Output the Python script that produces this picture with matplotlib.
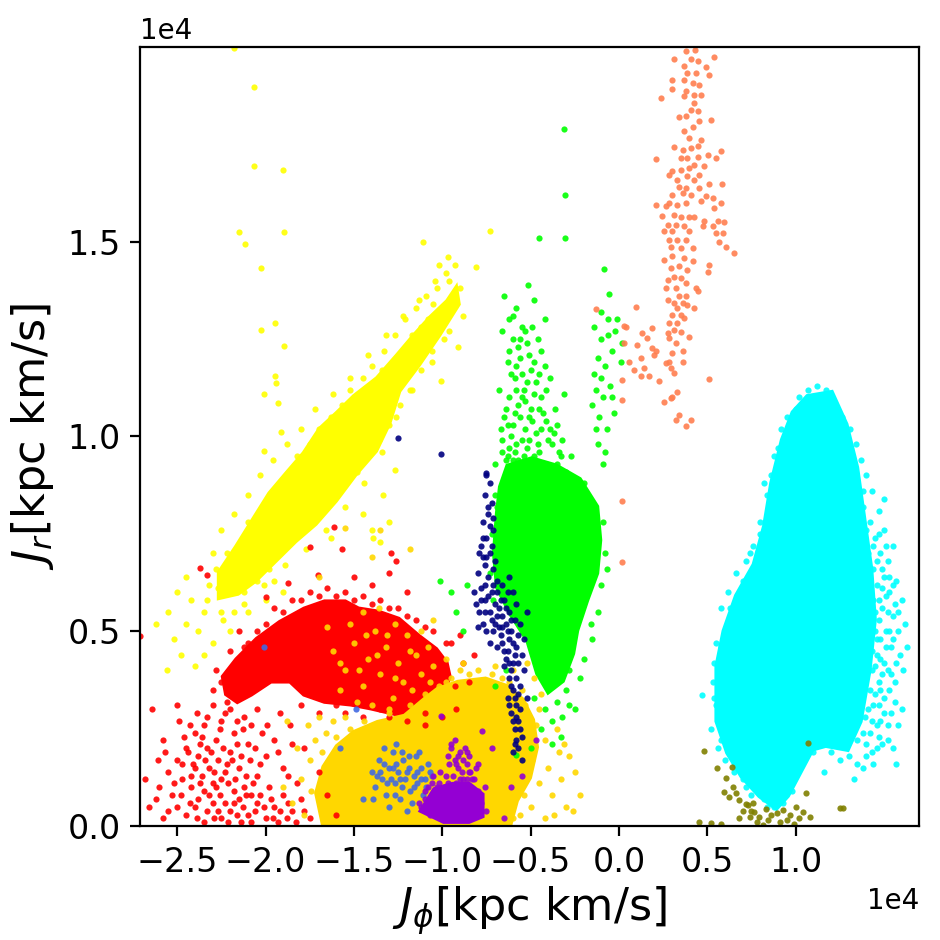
import numpy as np
import matplotlib.pyplot as plt

# all values in units of 1e4 kpc km/s  (J_phi, J_r)

# --- dense cores (outlines of the packed regions) ---
yellow_core = [(-2.256, 0.650), (-2.159, 0.716), (-2.063, 0.786), (-1.972, 0.852), (-1.875, 0.904),
               (-1.778, 0.955), (-1.688, 1.017), (-1.591, 1.058), (-1.494, 1.101), (-1.364, 1.147),
               (-1.25, 1.206), (-1.153, 1.258), (-1.063, 1.303), (-0.966, 1.345), (-0.926, 1.372),
               (-0.915, 1.340), (-1.023, 1.262), (-1.136, 1.187), (-1.25, 1.118), (-1.307, 1.035),
               (-1.381, 0.965), (-1.494, 0.906), (-1.608, 0.837), (-1.722, 0.778), (-1.835, 0.734),
               (-1.949, 0.683), (-2.063, 0.632), (-2.159, 0.600), (-2.256, 0.590)]
red_core = [(-2.159, 0.426), (-2.045, 0.478), (-1.915, 0.521), (-1.778, 0.555), (-1.665, 0.573),
            (-1.551, 0.573), (-1.477, 0.555), (-1.364, 0.547), (-1.25, 0.529), (-1.136, 0.485),
            (-1.040, 0.452), (-0.983, 0.418), (-0.966, 0.383), (-1.023, 0.323), (-1.119, 0.298),
            (-1.25, 0.290), (-1.403, 0.306), (-1.517, 0.316), (-1.665, 0.323), (-1.778, 0.341),
            (-1.858, 0.375), (-1.972, 0.375), (-2.085, 0.341), (-2.159, 0.323), (-2.216, 0.341),
            (-2.233, 0.383)]
gold_core = [(-1.665, 0.0), (-1.705, 0.085), (-1.665, 0.151), (-1.591, 0.203), (-1.494, 0.239),
             (-1.364, 0.264), (-1.210, 0.280), (-1.097, 0.323), (-1.023, 0.349), (-0.909, 0.367),
             (-0.756, 0.375), (-0.642, 0.357), (-0.551, 0.323), (-0.494, 0.272), (-0.472, 0.203),
             (-0.511, 0.126), (-0.585, 0.067), (-0.625, 0.0)]
purple_core = [(-1.04, 0.092), (-0.94, 0.105), (-0.85, 0.105), (-0.78, 0.080), (-0.78, 0.028),
               (-0.85, 0.015), (-0.99, 0.015), (-1.11, 0.041)]
lime_core = [(-0.625, 0.922), (-0.494, 0.940), (-0.358, 0.922), (-0.227, 0.888), (-0.131, 0.819),
             (-0.114, 0.734), (-0.131, 0.650), (-0.188, 0.580), (-0.244, 0.503), (-0.267, 0.444),
             (-0.324, 0.375), (-0.398, 0.349), (-0.455, 0.393), (-0.511, 0.478), (-0.608, 0.547),
             (-0.682, 0.614), (-0.699, 0.701), (-0.682, 0.804), (-0.665, 0.870)]
cyan_core = [(1.07, 1.10), (1.20, 1.11), (1.28, 1.03), (1.34, 0.92), (1.38, 0.79), (1.42, 0.66),
             (1.44, 0.53), (1.41, 0.40), (1.36, 0.27), (1.29, 0.20), (1.17, 0.21), (1.09, 0.20),
             (1.02, 0.14), (0.95, 0.08), (0.89, 0.05), (0.80, 0.08), (0.70, 0.13), (0.62, 0.19),
             (0.56, 0.27), (0.56, 0.41), (0.60, 0.50), (0.67, 0.59), (0.77, 0.67), (0.83, 0.77),
             (0.87, 0.88), (0.93, 0.99), (0.99, 1.06)]

# --- scattered points ---
yellow_pts = [(-2.35, 0.55), (-2.38, 0.50), (-2.30, 0.47), (-2.42, 0.58), (-2.55, 0.55), (-2.52, 0.48),
              (-2.48, 0.44), (-2.45, 0.52), (-2.40, 0.41), (-2.56, 0.40), (-2.35, 0.44), (-2.50, 0.60),
              (-2.32, 0.62), (-2.28, 0.66), (-2.25, 0.55), (-2.22, 0.70), (-2.18, 0.55), (-2.15, 0.72),
              (-2.12, 0.60), (-2.10, 0.78), (-2.05, 0.63), (-2.02, 0.80), (-1.98, 0.66), (-1.95, 0.86),
              (-1.92, 0.70), (-1.88, 0.90), (-1.85, 0.74), (-1.82, 0.95), (-1.78, 0.76), (-1.75, 0.98),
              (-1.72, 0.80), (-1.70, 1.02), (-1.66, 0.82), (-1.63, 1.05), (-1.60, 0.86), (-1.57, 1.08),
              (-1.55, 0.88), (-1.52, 1.12), (-1.48, 0.91), (-1.45, 1.15), (-1.42, 0.96), (-1.40, 1.18),
              (-1.36, 0.99), (-1.33, 1.22), (-1.30, 1.03), (-1.27, 1.26), (-1.24, 1.08), (-1.21, 1.30),
              (-1.18, 1.12), (-1.15, 1.33), (-1.12, 1.17), (-1.09, 1.36), (-1.06, 1.22), (-1.03, 1.38),
              (-1.00, 1.30), (-0.98, 1.42), (-0.95, 1.35), (-0.93, 1.44), (-0.97, 1.46), (-1.02, 1.44),
              (-0.99, 1.25), (-1.08, 1.30), (-2.20, 0.64), (-2.08, 0.73), (-1.98, 0.79), (-1.90, 0.76),
              (-1.80, 0.88), (-1.72, 0.92), (-1.65, 0.98), (-1.55, 1.02), (-1.46, 1.10), (-1.38, 1.12),
              (-1.30, 1.16), (-1.22, 1.22), (-1.12, 1.28), (-1.25, 1.14), (-1.42, 1.02), (-1.60, 0.92),
              (-1.82, 0.81), (-2.00, 0.69), (-1.70, 0.86), (-1.50, 0.97), (-2.176, 1.997), (-2.063, 1.897),
              (-2.063, 1.694), (-1.903, 1.684), (-2.148, 1.525), (-1.898, 1.525), (-2.114, 1.494),
              (-2.028, 1.433), (-1.949, 1.291), (-2.023, 1.273), (-1.898, 1.232), (-1.949, 1.155),
              (-1.943, 1.137), (-2.006, 1.109), (-1.932, 1.086), (-1.915, 1.012), (-2.006, 0.963),
              (-1.108, 1.499), (-0.727, 1.528), (-1.006, 1.143), (-0.909, 1.230), (-0.807, 1.435),
              (-1.45, 0.80), (-1.40, 0.76), (-1.35, 0.73), (-1.30, 0.78), (-1.63, 0.74), (-1.39, 0.74),
              (-1.335, 0.85), (-1.27, 0.914), (-2.00, 0.58), (-1.95, 0.63), (-1.90, 0.60), (-2.20, 0.50),
              (-2.10, 0.55), (-2.62, 0.52), (-2.45, 0.64), (-2.27, 0.61), (-2.16, 0.66), (-1.87, 0.80),
              (-1.76, 0.85), (-1.62, 0.94), (-1.52, 1.05), (-1.34, 1.17), (-1.17, 1.26), (-1.05, 1.34),
              (-2.30, 0.70), (-2.25, 0.76), (-2.18, 0.80), (-2.10, 0.85), (-2.03, 0.90), (-1.96, 0.94),
              (-1.88, 0.98), (-1.80, 1.02), (-1.72, 1.07), (-1.62, 1.11), (-1.52, 1.15), (-1.42, 1.21),
              (-1.32, 1.26), (-1.22, 1.31), (-1.13, 1.35), (-1.04, 1.40), (-0.96, 1.40), (-0.90, 1.38),
              (-0.88, 1.31), (-0.96, 1.27), (-1.06, 1.19), (-1.17, 1.12), (-1.26, 1.05), (-1.34, 0.96),
              (-1.44, 0.88), (-1.55, 0.82), (-1.66, 0.76), (-1.77, 0.71), (-1.89, 0.67), (-2.01, 0.62),
              (-2.12, 0.57), (-2.24, 0.53), (-2.33, 0.58)]
red_pts = [(-2.20, 0.30), (-2.25, 0.27), (-2.12, 0.28), (-2.30, 0.31), (-2.05, 0.30), (-2.35, 0.26),
           (-2.18, 0.24), (-2.28, 0.22), (-2.40, 0.24), (-2.45, 0.20), (-2.50, 0.17), (-2.38, 0.18),
           (-2.32, 0.15), (-2.42, 0.13), (-2.55, 0.14), (-2.60, 0.10), (-2.20, 0.19), (-2.15, 0.15),
           (-2.25, 0.12), (-2.10, 0.21), (-2.00, 0.18), (-1.95, 0.22), (-2.05, 0.13), (-1.90, 0.15),
           (-2.35, 0.09), (-2.48, 0.08), (-2.52, 0.11), (-2.62, 0.07), (-2.45, 0.03), (-2.40, 0.05),
           (-2.30, 0.06), (-2.25, 0.02), (-2.20, 0.04), (-2.15, 0.07), (-2.10, 0.03), (-2.05, 0.06),
           (-2.00, 0.02), (-1.95, 0.05), (-1.90, 0.08), (-1.85, 0.04), (-1.80, 0.07), (-1.75, 0.02),
           (-2.55, 0.04), (-2.35, 0.01), (-2.28, 0.10), (-2.12, 0.10), (-1.98, 0.10), (-1.82, 0.11),
           (-2.42, 0.10), (-2.68, 0.12), (-2.58, 0.22), (-2.64, 0.30), (-2.50, 0.31), (-1.78, 0.20),
           (-1.70, 0.14), (-1.65, 0.08), (-1.60, 0.03), (-2.33, 0.20), (-2.22, 0.16), (-2.40, 0.15),
           (-2.30, 0.11), (-2.18, 0.09), (-2.08, 0.08), (-2.38, 0.07), (-2.27, 0.04), (-2.14, 0.01),
           (-1.93, 0.01), (-2.02, 0.24), (-2.13, 0.25), (-2.47, 0.16), (-2.57, 0.19),
           (-2.44, 0.19), (-2.41, 0.16), (-2.37, 0.21), (-2.36, 0.13), (-2.34, 0.17), (-2.31, 0.19),
           (-2.29, 0.14), (-2.27, 0.17), (-2.24, 0.20), (-2.23, 0.14), (-2.21, 0.11), (-2.19, 0.17),
           (-2.17, 0.12), (-2.16, 0.21), (-2.14, 0.18), (-2.11, 0.13), (-2.09, 0.17), (-2.07, 0.11),
           (-2.06, 0.20), (-2.03, 0.16), (-2.43, 0.06), (-2.39, 0.02), (-2.37, 0.11), (-2.33, 0.04),
           (-2.32, 0.08), (-2.29, 0.02), (-2.26, 0.08), (-2.23, 0.06), (-2.21, 0.01), (-2.18, 0.06),
           (-2.16, 0.03), (-2.13, 0.05), (-2.11, 0.08), (-2.08, 0.01), (-2.06, 0.04), (-2.03, 0.08),
           (-2.01, 0.05), (-1.97, 0.07), (-1.96, 0.02), (-1.92, 0.04), (-1.88, 0.02), (-1.87, 0.06),
           (-1.83, 0.01), (-1.78, 0.04), (-2.47, 0.12), (-2.50, 0.05), (-2.53, 0.08), (-2.58, 0.02),
           (-2.46, 0.23), (-2.43, 0.26), (-2.39, 0.29), (-2.36, 0.23), (-2.26, 0.25), (-2.23, 0.29),
           (-2.16, 0.27), (-2.08, 0.26), (-1.99, 0.26), (-1.93, 0.19), (-1.87, 0.13), (-1.85, 0.21),
           (-2.61, 0.17), (-2.66, 0.05), (-2.49, 0.27), (-2.33, 0.28), (-1.92, 0.29), (-1.86, 0.26),
           (-2.00, 0.52), (-1.95, 0.56), (-1.85, 0.58), (-1.75, 0.60), (-1.65, 0.61), (-1.55, 0.60),
           (-1.45, 0.59), (-1.35, 0.58), (-1.25, 0.56), (-1.15, 0.53), (-1.05, 0.50), (-0.98, 0.47),
           (-1.00, 0.28), (-1.10, 0.26), (-1.20, 0.27), (-1.30, 0.28), (-1.45, 0.28), (-1.55, 0.29),
           (-1.70, 0.29), (-1.80, 0.31), (-2.28, 0.40), (-2.30, 0.35), (-2.20, 0.45), (-2.15, 0.50),
           (-2.10, 0.47), (-0.93, 0.36), (-0.88, 0.42), (-0.85, 0.37), (-0.82, 0.44), (-0.92, 0.30),
           (-0.95, 0.47), (-0.90, 0.49), (-2.71, 0.488), (-1.61, 0.768), (-1.57, 0.71), (-1.75, 0.717),
           (-1.29, 0.70), (-1.26, 0.68), (-1.30, 0.65), (-2.37, 0.662), (-2.33, 0.645), (-2.00, 0.589),
           (-1.875, 0.624), (-1.705, 0.645), (-1.50, 0.64), (-1.40, 0.62), (-1.20, 0.60),
           (-1.90, 0.55), (-1.80, 0.58), (-1.70, 0.59), (-1.60, 0.59), (-1.50, 0.58), (-1.40, 0.57),
           (-1.30, 0.56), (-1.20, 0.54), (-1.10, 0.51), (-2.05, 0.50), (-2.12, 0.46), (-2.25, 0.37),
           (-2.22, 0.32), (-1.10, 0.29), (-1.35, 0.30), (-1.60, 0.31)]
gold_pts = [(-1.62, 0.45), (-1.55, 0.40), (-1.50, 0.47), (-1.45, 0.36), (-1.42, 0.43), (-1.38, 0.50),
            (-1.35, 0.39), (-1.32, 0.46), (-1.28, 0.33), (-1.25, 0.42), (-1.22, 0.37), (-1.20, 0.49),
            (-1.18, 0.31), (-1.15, 0.44), (-1.12, 0.39), (-1.10, 0.34), (-1.08, 0.46), (-1.05, 0.41),
            (-1.02, 0.36), (-1.00, 0.31), (-0.98, 0.43), (-1.30, 0.30), (-1.40, 0.31), (-1.48, 0.32),
            (-1.58, 0.35), (-1.52, 0.52), (-1.65, 0.51), (-1.27, 0.52), (-1.12, 0.50), (-0.95, 0.38),
            (-0.92, 0.33), (-0.90, 0.40), (-1.36, 0.56), (-1.45, 0.55), (-1.05, 0.53), (-1.85, 0.06),
            (-1.80, 0.12), (-1.78, 0.03), (-1.75, 0.17), (-1.72, 0.22), (-1.82, 0.20), (-1.90, 0.10),
            (-1.88, 0.27), (-1.70, 0.28), (-1.62, 0.27), (-1.55, 0.28), (-0.45, 0.30), (-0.42, 0.22),
            (-0.40, 0.15), (-0.38, 0.08), (-0.35, 0.25), (-0.33, 0.12), (-0.30, 0.05), (-0.28, 0.18),
            (-0.25, 0.14), (-0.22, 0.08), (-0.42, 0.02), (-0.48, 0.38), (-0.52, 0.42), (-0.60, 0.40),
            (-0.70, 0.41), (-0.80, 0.40), (-0.88, 0.42), (-1.55, 0.765), (-1.40, 0.69), (-1.35, 0.76),
            (-1.18, 0.71), (-1.70, 0.64), (-1.68, 0.19), (-1.74, 0.09), (-1.60, 0.23), (-1.44, 0.27),
            (-1.30, 0.29), (-1.16, 0.30), (-0.98, 0.37), (-0.85, 0.39), (-0.66, 0.38), (-0.55, 0.35),
            (-0.47, 0.26), (-0.45, 0.11), (-0.50, 0.05), (-0.56, 0.03), (-0.34, 0.19), (-0.44, 0.34),
            (-1.58, 0.42), (-1.47, 0.40), (-1.37, 0.44), (-1.27, 0.38), (-1.17, 0.35), (-1.07, 0.37),
            (-1.43, 0.49), (-1.31, 0.49), (-1.18, 0.45), (-1.76, 0.26), (-1.66, 0.24), (-1.52, 0.25),
            (-0.72, 0.39), (-0.62, 0.37), (-0.53, 0.31), (-0.49, 0.17), (-0.54, 0.08), (-0.60, 0.02),
            (-0.37, 0.03), (-0.26, 0.04), (-0.31, 0.21)]
blue_pts = [(-1.40, 0.14), (-1.38, 0.10), (-1.36, 0.17), (-1.34, 0.12), (-1.32, 0.08), (-1.30, 0.15),
            (-1.28, 0.19), (-1.27, 0.11), (-1.25, 0.14), (-1.24, 0.07), (-1.22, 0.17), (-1.21, 0.12),
            (-1.19, 0.15), (-1.18, 0.09), (-1.16, 0.13), (-1.15, 0.18), (-1.14, 0.11), (-1.12, 0.15),
            (-1.10, 0.12), (-1.08, 0.16), (-1.06, 0.13), (-1.30, 0.05), (-1.20, 0.04), (-1.26, 0.21),
            (-1.33, 0.20), (-1.23, 0.10), (-1.17, 0.06), (-1.11, 0.08), (-1.35, 0.14), (-1.29, 0.12),
            (-1.13, 0.19), (-1.45, 0.07), (-2.007, 0.46), (-1.49, 0.30), (-1.58, 0.20),
            (-1.26, 0.16), (-1.20, 0.14), (-1.14, 0.14), (-1.31, 0.11), (-1.09, 0.10), (-1.23, 0.19),
            (-1.37, 0.13), (-1.33, 0.16), (-1.28, 0.15), (-1.24, 0.12), (-1.19, 0.18), (-1.16, 0.10),
            (-1.12, 0.12), (-1.07, 0.14), (-1.39, 0.07), (-1.27, 0.08)]
purple_pts = [(-0.95, 0.20), (-0.93, 0.22), (-0.90, 0.19), (-0.96, 0.16), (-0.91, 0.15), (-0.88, 0.17),
              (-0.85, 0.14), (-0.98, 0.13), (-1.02, 0.11), (-1.05, 0.13), (-1.08, 0.10), (-1.10, 0.07),
              (-1.12, 0.05), (-1.00, 0.08), (-0.88, 0.10), (-0.83, 0.12), (-0.80, 0.09), (-0.78, 0.06),
              (-0.82, 0.03), (-0.90, 0.05), (-0.95, 0.04), (-1.04, 0.03), (-0.86, 0.19), (-0.92, 0.11),
              (-0.96, 0.09), (-0.97, 0.18), (-0.81, 0.15), (-1.07, 0.03), (-1.006, 0.282), (-0.773, 0.244),
              (-0.47, 0.22), (-0.72, 0.20), (-0.61, 0.10), (-0.65, 0.02), (-0.55, 0.13),
              (-0.94, 0.13), (-0.90, 0.12), (-0.86, 0.12), (-0.99, 0.10), (-1.06, 0.11), (-0.84, 0.07),
              (-0.93, 0.17), (-0.89, 0.14), (-1.01, 0.14), (-0.95, 0.21), (-0.87, 0.20), (-0.85, 0.18),
              (-0.92, 0.16), (-0.84, 0.14), (-0.82, 0.12), (-0.88, 0.12), (-1.10, 0.09), (-1.13, 0.06),
              (-0.80, 0.16), (-0.86, 0.16), (-0.91, 0.18), (-0.97, 0.11), (-1.03, 0.10), (-0.76, 0.10),
              (-0.75, 0.04)]
navy_pts = [(-0.75, 0.90), (-0.73, 0.88), (-0.76, 0.85), (-0.72, 0.83), (-0.74, 0.80), (-0.77, 0.78),
            (-0.71, 0.76), (-0.75, 0.74), (-0.78, 0.72), (-0.73, 0.70), (-0.70, 0.68), (-0.76, 0.67),
            (-0.80, 0.65), (-0.74, 0.64), (-0.71, 0.62), (-0.78, 0.61), (-0.82, 0.60), (-0.76, 0.58),
            (-0.70, 0.57), (-0.73, 0.55), (-0.79, 0.55), (-0.68, 0.56), (-0.65, 0.58), (-0.62, 0.55),
            (-0.60, 0.60), (-0.58, 0.57), (-0.64, 0.52), (-0.70, 0.52), (-0.75, 0.50), (-0.80, 0.51),
            (-0.67, 0.49), (-0.61, 0.50), (-0.56, 0.52), (-0.54, 0.48), (-0.58, 0.46), (-0.63, 0.45),
            (-0.69, 0.46), (-0.73, 0.47), (-0.60, 0.42), (-0.65, 0.41), (-0.55, 0.44), (-0.52, 0.55),
            (-0.66, 0.62), (-0.62, 0.64), (-0.62, 0.38), (-0.60, 0.35), (-0.63, 0.33), (-0.58, 0.31),
            (-0.61, 0.29), (-0.57, 0.27), (-0.59, 0.25), (-0.55, 0.23), (-0.57, 0.20), (-0.60, 0.19),
            (-0.56, 0.36), (-0.54, 0.40), (-0.52, 0.33), (-1.25, 0.996), (-1.006, 0.955), (-0.75, 0.907),
            (-0.77, 0.69), (-0.74, 0.59), (-0.66, 0.54), (-0.59, 0.53), (-0.71, 0.50), (-0.57, 0.49),
            (-0.79, 0.70), (-0.76, 0.62), (-0.72, 0.72), (-0.69, 0.60), (-0.67, 0.58), (-0.63, 0.60),
            (-0.64, 0.56), (-0.61, 0.53), (-0.68, 0.51), (-0.72, 0.53), (-0.77, 0.52), (-0.66, 0.47),
            (-0.62, 0.48), (-0.59, 0.44), (-0.57, 0.42), (-0.61, 0.40), (-0.64, 0.43), (-0.58, 0.38),
            (-0.61, 0.36), (-0.59, 0.33), (-0.56, 0.30), (-0.60, 0.27), (-0.58, 0.22), (-0.55, 0.17),
            (-0.74, 0.82), (-0.71, 0.79), (-0.77, 0.74), (-0.73, 0.77), (-0.78, 0.58), (-0.81, 0.57),
            (-0.69, 0.54), (-0.66, 0.51), (-0.63, 0.50), (-0.60, 0.47), (-0.65, 0.45), (-0.62, 0.42),
            (-0.57, 0.34), (-0.62, 0.31), (-0.58, 0.28), (-0.56, 0.25), (-0.59, 0.21), (-0.71, 0.66),
            (-0.75, 0.69), (-0.72, 0.60), (-0.69, 0.63), (-0.76, 0.55)]
lime_pts = [(-0.62, 1.30), (-0.58, 1.33), (-0.55, 1.28), (-0.60, 1.25), (-0.52, 1.24), (-0.56, 1.20),
            (-0.63, 1.19), (-0.50, 1.17), (-0.59, 1.15), (-0.54, 1.12), (-0.47, 1.14), (-0.62, 1.10),
            (-0.57, 1.08), (-0.50, 1.07), (-0.44, 1.10), (-0.65, 1.05), (-0.60, 1.03), (-0.53, 1.02),
            (-0.47, 1.01), (-0.41, 1.04), (-0.66, 0.99), (-0.58, 0.98), (-0.52, 0.97), (-0.45, 0.96),
            (-0.38, 0.98), (-0.63, 0.95), (-0.35, 0.93), (-0.70, 0.93), (-0.68, 1.12), (-0.39, 1.15),
            (-0.44, 1.22), (-0.42, 1.30), (-0.48, 1.35), (-0.66, 1.27), (-0.517, 1.389), (-0.057, 1.366),
            (-0.653, 1.361), (-0.3125, 1.789), (-0.307, 1.62), (-0.307, 1.51), (-0.455, 1.51),
            (-0.085, 1.43), (-0.14, 1.28), (-0.10, 1.25), (-0.06, 1.30), (-0.02, 1.27), (-0.12, 1.20),
            (-0.08, 1.18), (-0.04, 1.22), (0.01, 1.19), (-0.13, 1.12), (-0.09, 1.10), (-0.05, 1.13),
            (-0.11, 1.05), (-0.07, 1.02), (-0.12, 0.98), (-0.03, 1.06), (-0.15, 1.08), (-0.08, 0.96),
            (0.02, 1.24), (-0.10, 1.32), (-1.01, 0.63), (-0.95, 0.60), (-0.92, 0.55), (-0.88, 0.50),
            (-0.86, 0.62), (-0.42, 0.30), (-0.38, 0.27), (-0.35, 0.32), (-0.32, 0.28), (-0.30, 0.35),
            (-0.40, 0.36), (-0.36, 0.40), (-0.28, 0.31), (-0.44, 0.25), (-0.25, 0.30), (-0.33, 0.23),
            (-0.38, 0.21), (-0.72, 0.75), (-0.73, 0.65), (-0.70, 0.85), (-0.10, 0.62), (-0.08, 0.70),
            (-0.12, 0.55), (-0.15, 0.48), (-0.20, 0.43), (-0.22, 0.38), (-0.64, 0.40), (-0.70, 0.36),
            (-0.50, 0.20), (-0.585, 0.182), (-0.64, 0.94), (-0.30, 0.91), (-0.20, 0.88), (-0.27, 0.95),
            (-0.09, 0.78), (-0.07, 0.66), (-0.16, 0.52), (-0.28, 0.40), (-0.48, 0.33), (-0.71, 0.58),
            (-0.69, 0.82), (-0.64, 1.07), (-0.61, 1.00), (-0.56, 1.05), (-0.55, 0.99), (-0.49, 1.04),
            (-0.46, 0.98), (-0.43, 1.06), (-0.40, 0.99), (-0.37, 1.01), (-0.34, 0.96), (-0.59, 0.96),
            (-0.53, 1.09), (-0.58, 1.12), (-0.61, 1.16), (-0.52, 1.14), (-0.48, 1.19), (-0.57, 1.23),
            (-0.53, 1.27), (-0.60, 1.31), (-0.49, 1.28), (-0.46, 1.25), (-0.42, 1.18), (-0.36, 1.07),
            (-0.32, 0.99), (-0.31, 1.11), (-0.44, 1.02), (-0.51, 0.99), (-0.62, 0.97), (-0.67, 1.02),
            (-0.57, 0.94), (-0.63, 1.03), (-0.59, 1.06), (-0.55, 1.10), (-0.51, 1.05), (-0.48, 1.11),
            (-0.45, 1.07), (-0.41, 1.12), (-0.39, 1.02), (-0.35, 1.03), (-0.33, 0.95), (-0.48, 0.95),
            (-0.54, 0.95), (-0.60, 0.94), (-0.66, 0.96), (-0.58, 1.18), (-0.55, 1.16), (-0.51, 1.21),
            (-0.56, 1.25), (-0.62, 1.22), (-0.45, 1.16), (-0.04, 1.10), (-0.10, 1.15), (-0.06, 1.26),
            (-0.01, 1.30), (-0.13, 1.02), (-0.09, 0.93), (-0.14, 1.16)]
coral_pts = [(0.379, 1.988), (0.432, 1.992), (0.407, 1.967), (0.445, 1.962), (0.3125, 1.968), (0.369, 1.950),
             (0.492, 1.948), (0.388, 1.932), (0.436, 1.932), (0.536, 1.973), (0.511, 1.928), (0.303, 1.915),
             (0.369, 1.915), (0.417, 1.907), (0.455, 1.902), (0.303, 1.890), (0.379, 1.885), (0.237, 1.868),
             (0.369, 1.873), (0.426, 1.877), (0.464, 1.877), (0.426, 1.855), (0.407, 1.838), (0.445, 1.834),
             (0.341, 1.819), (0.379, 1.821), (0.521, 1.813), (0.455, 1.808), (0.417, 1.795), (0.369, 1.783),
             (0.398, 1.766), (0.464, 1.761), (0.445, 1.744), (0.3125, 1.742), (0.360, 1.736), (0.407, 1.740),
             (0.578, 1.731), (0.208, 1.712), (0.350, 1.714), (0.388, 1.714), (0.445, 1.718), (0.502, 1.723),
             (0.549, 1.714), (0.426, 1.697), (0.483, 1.693), (0.303, 1.680), (0.350, 1.684), (0.398, 1.689),
             (0.455, 1.671), (0.331, 1.659), (0.388, 1.667), (0.426, 1.659), (0.284, 1.671), (0.508, 1.648),
             (0.583, 1.648), (0.341, 1.641), (0.379, 1.637), (0.455, 1.637), (0.303, 1.620), (0.360, 1.624),
             (0.407, 1.620), (0.492, 1.616), (0.530, 1.611), (0.578, 1.600), (0.284, 1.599), (0.331, 1.594),
             (0.379, 1.599), (0.464, 1.603), (0.208, 1.594), (0.265, 1.590), (0.540, 1.586), (0.3125, 1.569),
             (0.350, 1.564), (0.398, 1.564), (0.246, 1.566), (0.426, 1.564), (0.483, 1.552), (0.559, 1.552),
             (0.597, 1.549), (0.275, 1.543), (0.322, 1.543), (0.369, 1.539), (0.473, 1.539), (0.530, 1.539),
             (0.303, 1.526), (0.398, 1.526), (0.549, 1.523), (0.256, 1.526), (0.587, 1.522), (0.284, 1.505),
             (0.331, 1.505), (0.379, 1.505), (0.568, 1.500), (0.350, 1.483), (0.417, 1.483), (0.294, 1.487),
             (0.606, 1.486), (0.653, 1.470), (0.256, 1.453), (0.303, 1.462), (0.369, 1.457), (0.417, 1.449),
             (0.294, 1.432), (0.341, 1.436), (0.388, 1.428), (0.508, 1.439), (0.502, 1.422), (0.3125, 1.410),
             (0.350, 1.406), (0.275, 1.402), (0.379, 1.393), (0.322, 1.380), (0.265, 1.380), (0.436, 1.380),
             (0.445, 1.372), (0.341, 1.359), (0.379, 1.359), (0.275, 1.350), (0.3125, 1.342), (0.360, 1.342),
             (0.388, 1.338), (0.331, 1.329), (0.426, 1.329), (0.303, 1.312), (0.350, 1.312), (0.284, 1.291),
             (0.331, 1.291), (0.369, 1.303), (0.3125, 1.273), (0.350, 1.269), (0.275, 1.265), (0.398, 1.256),
             (0.284, 1.252), (0.322, 1.239), (0.095, 1.332), (0.038, 1.282), (0.186, 1.278), (0.133, 1.265),
             (0.161, 1.252), (0.104, 1.235), (0.028, 1.239), (0.189, 1.226), (0.208, 1.218), (0.303, 1.214),
             (0.360, 1.218), (0.199, 1.209), (0.123, 1.201), (0.057, 1.192), (0.284, 1.192), (0.265, 1.188),
             (0.360, 1.190), (0.142, 1.175), (0.085, 1.171), (0.294, 1.175), (0.3125, 1.162), (0.123, 1.154),
             (0.170, 1.155), (0.019, 1.145), (0.227, 1.141), (0.508, 1.147), (0.019, 1.094), (0.331, 1.115),
             (0.303, 1.102), (0.256, 1.089), (0.294, 1.098), (0.322, 1.042), (0.341, 1.055), (0.407, 1.042),
             (0.379, 1.027), (0.017, 0.834), (0.017, 0.678), (-0.131, 1.327), (0.028, 1.284)]
cyan_pts = [(1.42, 0.78), (1.45, 0.74), (1.48, 0.70), (1.52, 0.68), (1.55, 0.72), (1.50, 0.64), (1.46, 0.62),
            (1.53, 0.60), (1.57, 0.63), (1.60, 0.58), (1.49, 0.56), (1.44, 0.58), (1.55, 0.54), (1.58, 0.50),
            (1.62, 0.52), (1.51, 0.50), (1.46, 0.48), (1.54, 0.46), (1.59, 0.44), (1.48, 0.43), (1.43, 0.45),
            (1.52, 0.40), (1.56, 0.37), (1.61, 0.40), (1.47, 0.37), (1.50, 0.33), (1.44, 0.31), (1.54, 0.29),
            (1.58, 0.26), (1.48, 0.27), (1.42, 0.24), (1.52, 0.22), (1.46, 0.20), (1.40, 0.18), (1.55, 0.20),
            (1.38, 0.15), (1.44, 0.16), (1.60, 0.30), (1.63, 0.46), (1.57, 0.16), (1.35, 0.16), (1.30, 0.18),
            (1.33, 0.12), (1.25, 0.17), (1.20, 0.19), (1.16, 0.14), (1.47, 0.81), (1.50, 0.84), (1.43, 0.86),
            (1.40, 0.90), (1.37, 0.94), (0.80, 0.75), (0.76, 0.72), (0.72, 0.68), (0.66, 0.65), (0.62, 0.60),
            (0.58, 0.56), (0.60, 0.50), (0.55, 0.47), (0.57, 0.42), (0.53, 0.37), (0.55, 0.31), (0.52, 0.25),
            (0.56, 0.20), (0.60, 0.17), (0.65, 0.14), (0.70, 0.12), (0.75, 0.08), (0.82, 0.07), (0.88, 0.05),
            (0.93, 0.06), (0.98, 0.09), (0.85, 0.82), (0.82, 0.88), (0.88, 0.95), (0.92, 1.02), (0.68, 0.55),
            (0.64, 0.44), (0.47, 0.336), (1.02, 1.10), (1.07, 1.12), (1.12, 1.13), (1.17, 1.12), (1.22, 1.08),
            (1.26, 1.05), (1.29, 0.98), (1.00, 1.07), (0.98, 1.03), (1.32, 0.95), (1.36, 0.86), (1.38, 0.82),
            (1.44, 0.66), (1.47, 0.53), (1.45, 0.41), (1.41, 0.30), (1.38, 0.24), (1.50, 0.76), (1.53, 0.35),
            (1.56, 0.57), (1.41, 0.70), (1.43, 0.50), (1.35, 0.22), (1.10, 0.19), (1.05, 0.17), (0.86, 0.90),
            (0.76, 0.64), (0.62, 0.52), (0.56, 0.36), (0.57, 0.27), (0.61, 0.23), (0.68, 0.16), (0.79, 0.11),
            (1.46, 0.44), (1.49, 0.39), (1.51, 0.46), (1.47, 0.58), (1.52, 0.55), (1.46, 0.68), (1.49, 0.61),
            (1.45, 0.34), (1.50, 0.29), (1.43, 0.27), (1.47, 0.23), (1.40, 0.21), (1.45, 0.50), (1.42, 0.62),
            (1.44, 0.72), (1.40, 0.76), (1.38, 0.86), (1.34, 0.98), (1.31, 1.02), (0.74, 0.70), (0.70, 0.63),
            (0.63, 0.56), (0.58, 0.46), (0.54, 0.42), (0.54, 0.33), (0.58, 0.22), (0.64, 0.18), (0.72, 0.10),
            (0.84, 0.05), (0.80, 0.78), (0.84, 0.85), (0.90, 0.97), (0.95, 1.05),
            (1.48, 0.48), (1.50, 0.42), (1.53, 0.50), (1.49, 0.66), (1.53, 0.64), (1.51, 0.72), (1.47, 0.75),
            (1.43, 0.40), (1.47, 0.31), (1.52, 0.26), (1.49, 0.21), (1.43, 0.19), (1.56, 0.32), (1.57, 0.42),
            (1.55, 0.48), (1.55, 0.62), (1.58, 0.55), (1.45, 0.55), (1.42, 0.35), (1.39, 0.28), (1.48, 0.35),
            (1.54, 0.39), (1.46, 0.26), (1.41, 0.47), (1.51, 0.59)]
olive_pts = [(0.483, 0.192), (0.557, 0.149), (0.606, 0.123), (0.644, 0.100), (0.625, 0.074), (0.597, 0.088),
             (0.663, 0.085), (0.682, 0.067), (0.729, 0.054), (0.767, 0.036), (0.795, 0.023), (0.739, 0.023),
             (0.843, 0.015), (0.892, 0.033), (0.928, 0.041), (0.966, 0.028), (1.004, 0.049), (1.042, 0.036),
             (1.080, 0.023), (1.267, 0.046), (1.25, 0.046), (0.455, 0.010), (0.523, 0.008), (0.580, 0.005),
             (0.682, 0.020), (0.813, 0.003), (0.909, 0.010), (1.061, 0.085), (1.068, 0.213), (0.642, 0.152),
             (0.720, 0.058), (0.75, 0.04), (0.78, 0.012), (0.86, 0.03), (0.95, 0.015), (0.99, 0.005),
             (1.02, 0.02), (0.70, 0.04), (0.76, 0.06), (0.83, 0.045)]

layers = [
    (yellow_core, yellow_pts, "#ffff00"),
    (red_core, red_pts, "#ff0000"),
    (gold_core, gold_pts, "#ffd700"),
    (None, blue_pts, "#4169e1"),
    (purple_core, purple_pts, "#9400d3"),
    (lime_core, lime_pts, "#00ff00"),
    (None, navy_pts, "#000080"),
    (None, coral_pts, "#ff7f50"),
    (cyan_core, cyan_pts, "#00ffff"),
    (None, olive_pts, "#808000"),
]

fig, ax = plt.subplots(figsize=(4.7, 4.7), dpi=200)
fig.subplots_adjust(left=0.149, right=0.978, bottom=0.121, top=0.95)

for core, pts, color in layers:
    if core is not None:
        cx, cy = np.array(core).T * 1e4
        ax.fill(cx, cy, color=color, lw=2.5, ec=color, zorder=1)
    px, py = np.array(pts).T * 1e4
    ax.scatter(px, py, s=5, c=color, linewidths=0, alpha=0.9, zorder=2)

ax.set_xlim(-27100, 17000)
ax.set_ylim(0, 19990)
ax.set_xticks([-25000, -20000, -15000, -10000, -5000, 0, 5000, 10000])
ax.set_yticks([0, 5000, 10000, 15000])
ax.ticklabel_format(axis="both", style="sci", scilimits=(0, 0))
ax.tick_params(labelsize=12)
ax.set_xlabel(r"$J_\phi$[kpc km/s]", fontsize=16, labelpad=2)
ax.set_ylabel(r"$J_r$[kpc km/s]", fontsize=16)

fig.savefig("out.png", dpi=200)
